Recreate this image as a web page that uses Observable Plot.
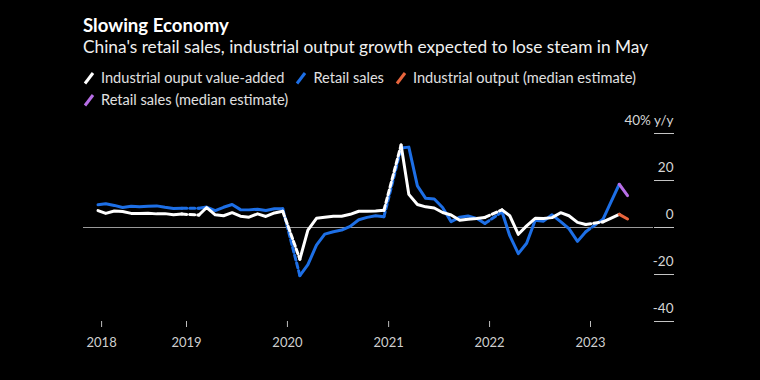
<!DOCTYPE html>
<html>
<head>
<meta charset="utf-8">
<script src="https://cdn.jsdelivr.net/npm/d3@7"></script>
<script src="https://cdn.jsdelivr.net/npm/@observablehq/plot@0.6"></script>
<style>
  html, body { margin: 0; padding: 0; background: #000; }
  body { width: 760px; height: 380px; overflow: hidden; font-family: Lato, "Noto Sans", sans-serif; }
  #hdr { padding-left: 83px; color: #fff; height: 110px; box-sizing: border-box; overflow: hidden; }
  .title { font-weight: 700; font-size: 18.6px; line-height: 22px; height: 22px; padding-top: 14px; }
  .sub { font-size: 17.3px; line-height: 22px; height: 22px; color: #f0f0f0; }
  .legend { margin-top: 9px; font-size: 14.6px; line-height: 22px; color: #e0e0e0; width: 620px;
            display: flex; flex-wrap: wrap; }
  .item { display: flex; align-items: center; height: 22px; margin-right: 11px; white-space: nowrap; }
  .item svg { margin-right: 6px; }
  #chart svg { display: block; }
</style>
</head>
<body>
<div id="hdr">
  <div class="title">Slowing Economy</div>
  <div class="sub">China's retail sales, industrial output growth expected to lose steam in May</div>
  <div class="legend" id="legend"></div>
</div>
<div id="chart"></div>
<script>
// Months reported (January is combined with February in China's data)
const months = [
  "2018-02","2018-03","2018-04","2018-05","2018-06","2018-07","2018-08","2018-09","2018-10","2018-11","2018-12",
  "2019-02","2019-03","2019-04","2019-05","2019-06","2019-07","2019-08","2019-09","2019-10","2019-11","2019-12",
  "2020-02","2020-03","2020-04","2020-05","2020-06","2020-07","2020-08","2020-09","2020-10","2020-11","2020-12",
  "2021-02","2021-03","2021-04","2021-05","2021-06","2021-07","2021-08","2021-09","2021-10","2021-11","2021-12",
  "2022-02","2022-03","2022-04","2022-05","2022-06","2022-07","2022-08","2022-09","2022-10","2022-11","2022-12",
  "2023-02","2023-03","2023-04"
];
const industrial = [
  7.2, 6.0, 7.0, 6.8, 6.0, 6.0, 6.1, 5.8, 5.9, 5.4, 5.7,
  5.3, 8.5, 5.4, 5.0, 6.3, 4.8, 4.4, 5.8, 4.7, 6.2, 6.9,
  -13.5, -1.1, 3.9, 4.4, 4.8, 4.8, 5.6, 6.9, 6.9, 7.0, 7.3,
  35.1, 14.1, 9.8, 8.8, 8.3, 6.4, 5.3, 3.1, 3.5, 3.8, 4.3,
  7.5, 5.0, -2.9, 0.7, 3.9, 3.8, 4.2, 6.3, 5.0, 2.2, 1.3,
  2.4, 3.9, 5.6
];
const retail = [
  9.7, 10.1, 9.4, 8.5, 9.0, 8.8, 9.0, 9.2, 8.6, 8.1, 8.2,
  8.2, 8.7, 7.2, 8.6, 9.8, 7.6, 7.5, 7.8, 7.2, 8.0, 8.0,
  -20.5, -15.8, -7.5, -2.8, -1.8, -1.1, 0.5, 3.3, 4.3, 5.0, 4.6,
  33.8, 34.2, 17.7, 12.4, 12.1, 8.5, 2.5, 4.4, 4.9, 3.9, 1.7,
  6.7, -3.5, -11.1, -6.7, 3.1, 2.7, 5.4, 2.5, -0.5, -5.9, -1.8,
  3.5, 10.6, 18.4
];
const estimateMonth = "2023-05";
const industrialEstimate = 3.6;
const retailEstimate = 13.6;

const xTickDates = ["2018-02-28","2019-01-01","2020-01-01","2021-01-01","2022-01-01","2023-01-01"];
const xTickLabels = ["2018","2019","2020","2021","2022","2023"];
const yTicks = [40, 20, 0, -20, -40];

const series = [
  {key: "ip", name: "Industrial ouput value-added", color: "#ffffff", values: industrial},
  {key: "rs", name: "Retail sales", color: "#1d6fe6", values: retail}
];
const estimates = [
  {key: "ipEst", name: "Industrial output (median estimate)", color: "#e8653d", from: "ip", value: industrialEstimate},
  {key: "rsEst", name: "Retail sales (median estimate)", color: "#b76ee6", from: "rs", value: retailEstimate}
];

// ----- legend -----
const legend = document.getElementById("legend");
for (const s of [...series, ...estimates]) {
  const el = document.createElement("span");
  el.className = "item";
  el.innerHTML = `<svg width="12" height="14"><line x1="2" y1="12.5" x2="10" y2="2" stroke="${s.color}" stroke-width="3" stroke-linecap="butt"/></svg>${s.name}`;
  legend.appendChild(el);
}

// ----- data tables -----
const mid = m => new Date(m + "-15T00:00:00Z");
const solid = [], dashed = [], est = [];
for (const s of series) {
  s.values.forEach((v, i) => {
    solid.push({series: s.key, date: mid(months[i]), value: v, grp: s.key + months[i].slice(0, 4)});
    if (i > 0 && months[i].slice(0, 4) !== months[i - 1].slice(0, 4)) {
      const g = s.key + "gap" + months[i].slice(0, 4);
      dashed.push({series: s.key, date: mid(months[i - 1]), value: s.values[i - 1], grp: g});
      dashed.push({series: s.key, date: mid(months[i]), value: v, grp: g});
    }
  });
}
for (const e of estimates) {
  const src = series.find(s => s.key === e.from);
  const n = months.length - 1;
  est.push({series: e.key, date: mid(months[n]), value: src.values[n]});
  est.push({series: e.key, date: mid(estimateMonth), value: e.value});
}
const colorOf = Object.fromEntries([...series, ...estimates].map(s => [s.key, s.color]));
const order = ["rs", "ip"];

const marks = [
  Plot.ruleY([0], {stroke: "#9a9a9a", strokeWidth: 1}),
  Plot.axisY({anchor: "right", ticks: yTicks, tickSize: 20, stroke: "#c4c4c4", tickFormat: () => "", label: null}),
  Plot.axisY({anchor: "right", ticks: yTicks, tickSize: 0, tickPadding: 0, dx: 20, dy: -13, textAnchor: "end",
    fill: "#d6d6d6", fontSize: 13.5, label: null,
    tickFormat: d => d === 40 ? "40% y/y" : String(d)}),
  Plot.axisX({ticks: xTickDates.map(d => new Date(d + "T00:00:00Z")), tickSize: 6, tickPadding: 10,
    stroke: "#bdbdbd", fill: "#cfcfcf", fontSize: 13, label: null,
    tickFormat: (d, i) => xTickLabels[i]})
];
for (const k of order) {
  marks.push(Plot.line(dashed.filter(d => d.series === k), {x: "date", y: "value", z: "grp",
    stroke: colorOf[k], strokeWidth: 3, strokeDasharray: "5,3", curve: "linear"}));
  marks.push(Plot.line(solid.filter(d => d.series === k), {x: "date", y: "value", z: "grp",
    stroke: colorOf[k], strokeWidth: 3, strokeLinejoin: "round", curve: "linear"}));
}
for (const e of estimates) {
  marks.push(Plot.line(est.filter(d => d.series === e.key), {x: "date", y: "value",
    stroke: e.color, strokeWidth: 3}));
}

const chart = Plot.plot({
  width: 760,
  height: 270,
  marginLeft: 83,
  marginRight: 107,
  marginTop: 23,
  marginBottom: 59,
  style: {background: "#000", color: "#ccc", fontFamily: "Lato, 'Noto Sans', sans-serif"},
  x: {type: "utc", domain: [new Date("2019-01-01T00:00:00Z"), new Date("2023-01-01T00:00:00Z")], range: [186, 590]},
  y: {domain: [-40, 40]},
  marks
});
document.getElementById("chart").appendChild(chart);
</script>
</body>
</html>
